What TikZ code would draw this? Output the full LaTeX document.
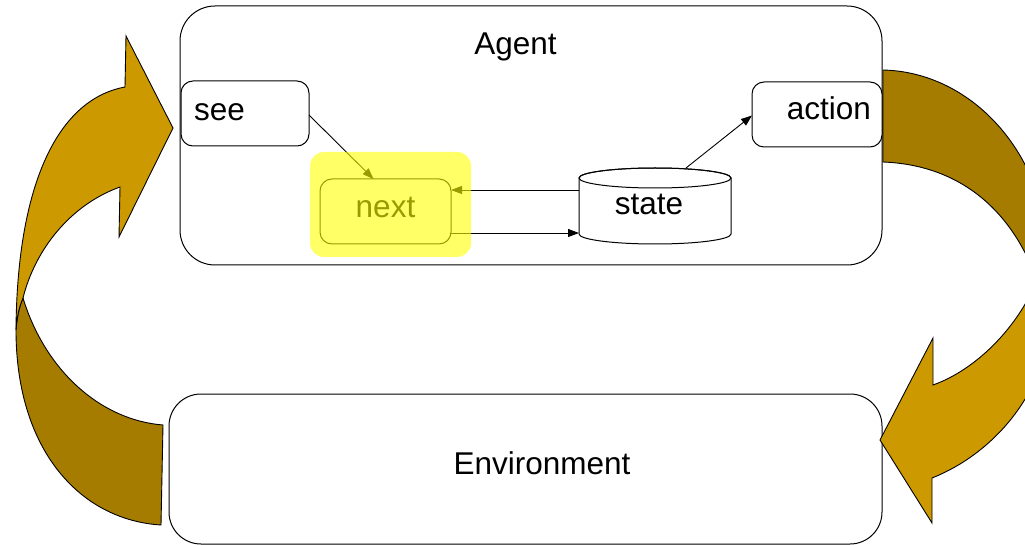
\documentclass[tikz,border=0pt]{standalone}
\usepackage{fontspec}
\setmainfont{Liberation Sans}
\usetikzlibrary{arrows.meta}
\definecolor{goldlight}{RGB}{204,153,0}
\definecolor{golddark}{RGB}{165,124,0}
\definecolor{hiyellow}{RGB}{255,255,0}
\begin{document}
\begin{tikzpicture}[x=1pt,y=-1pt,
  rbox/.style={draw=black, line width=1pt, fill=white, inner sep=0pt, outer sep=0pt},
  lbl/.style={font=\fontsize{31.5}{36}\selectfont, inner sep=0pt, outer sep=0pt},
  conn/.style={draw=black, line width=0.9pt, -{Triangle[length=11pt,width=8pt]}},
  bigarrow/.style={draw=black, line width=0.9pt, line join=miter}]
\useasboundingbox (0,0) rectangle (1025,545);
\clip (0,0) rectangle (1025,545);
% Agent box
\node[rbox, rounded corners=35pt, minimum width=702pt, minimum height=259pt, anchor=north west] (agent) at (180,6) {};
\node[lbl, anchor=base] (agentlbl) at (515.5,55) {Agent};
% Environment box
\node[rbox, rounded corners=32pt, minimum width=713pt, minimum height=150pt, anchor=north west] (env) at (169,394) {};
\node[lbl, anchor=base] (envlbl) at (542,474) {Environment};
% see box
\node[rbox, rounded corners=12pt, minimum width=128pt, minimum height=65pt, anchor=north west] (see) at (181,81) {};
\node[lbl, anchor=base west] (seelbl) at (194,121) {see};
% action box
\node[rbox, rounded corners=12pt, minimum width=130pt, minimum height=65pt, anchor=north west] (action) at (752,82) {};
\node[lbl, anchor=base east] (actionlbl) at (871,120) {action};
% next box
\node[rbox, rounded corners=12pt, minimum width=131pt, minimum height=65pt, anchor=north west] (next) at (320,179) {};
\node[lbl, anchor=base] (nextlbl) at (385.5,218) {next};
% state cylinder
\draw[line width=1pt, fill=white] (579,178) -- (579,234)
  arc[start angle=180, end angle=360, x radius=76pt, y radius=10pt] -- (731,178)
  arc[start angle=0, end angle=180, x radius=76pt, y radius=10pt] -- cycle;
\draw[line width=1pt] (655,178) ellipse[x radius=76pt, y radius=10pt];
\node[inner sep=0pt, outer sep=0pt, minimum width=152pt, minimum height=66pt, anchor=north west] (state) at (579,168) {};
\node[lbl, anchor=base] (statelbl) at (649,215) {state};
% connectors
\coordinate (na) at ([yshift=21.5pt]next.east);
\coordinate (nb) at ([yshift=-21.5pt]next.east);
\draw[conn] (state.west |- na) -- (na);
\draw[conn] (nb) -- (state.west |- nb);
\draw[conn] ([yshift=-1.5pt]see.east) -- ([xshift=-12pt]next.north);
\draw[conn] ([xshift=31pt]state.north) -- ([yshift=-1pt]action.west);
% highlight overlay
\fill[hiyellow, opacity=0.6, rounded corners=14pt] (310,152) rectangle (471,257);
% left big arrow: dark tail
\path[bigarrow, fill=golddark] (23,298) .. controls (45,370) and (100,420) .. (163,425)
  -- (161,525) .. controls (80,520) and (16,450) .. (16,330)
  .. controls (17,315) and (20,305) .. (23,298) -- cycle;
% left big arrow: light head
\path[bigarrow, fill=goldlight] (173,128) -- (126,36) -- (125,87)
  .. controls (55,100) and (17,190) .. (16,330)
  .. controls (17,315) and (20,305) .. (23,298)
  .. controls (35,250) and (70,205) .. (120,187)
  -- (119,237) -- cycle;
% right big arrow: dark tail
\path[bigarrow, fill=golddark] (883,70) .. controls (970,72) and (1045,150) .. (1050,260)
  -- (1045,290) -- (1035,275)
  .. controls (1010,210) and (960,165) .. (883,162) -- cycle;
% right big arrow: light head
\path[bigarrow, fill=goldlight] (880,440) -- (933,338) -- (933,385)
  .. controls (975,370) and (1015,330) .. (1035,285)
  -- (1050,300) -- (1050,330)
  .. controls (1040,400) and (990,455) .. (932,478)
  -- (932,523) -- cycle;
\end{tikzpicture}
\end{document}
